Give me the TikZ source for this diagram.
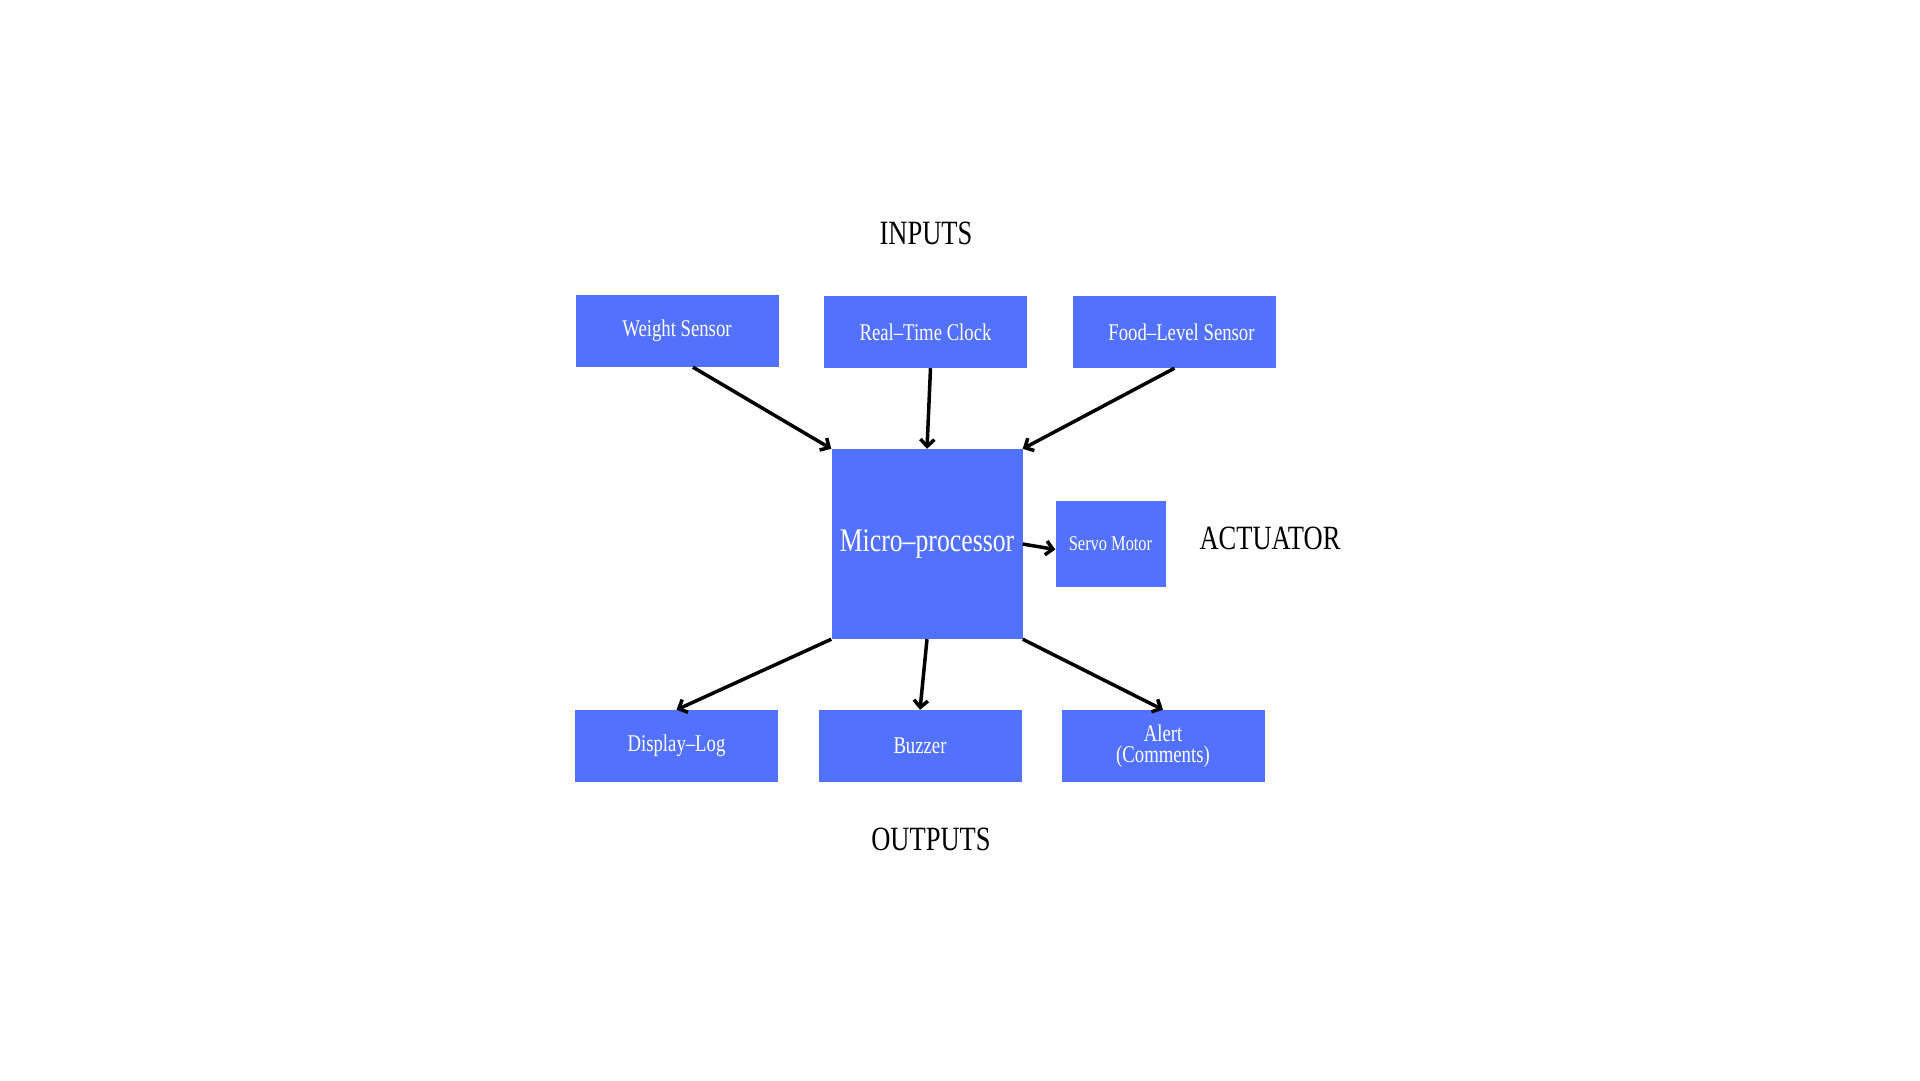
\documentclass[tikz,border=0pt]{standalone}
\usepackage{fontspec}
\setmainfont{Liberation Serif}[FakeStretch=0.78]
\usetikzlibrary{arrows.meta}
\definecolor{boxblue}{RGB}{82,113,255}

\begin{document}
\begin{tikzpicture}[x=1pt,y=-1pt,
  block/.style={fill=boxblue, text=white, inner sep=0pt, minimum width=203pt, minimum height=72pt, align=center, font=\fontsize{24}{21}\selectfont},
  heading/.style={font=\fontsize{34}{38}\selectfont},
  link/.style={line width=3.5pt, -{Straight Barb[length=7pt,width=14pt]}}]
\useasboundingbox (0,0) rectangle (1920,1080);

\node[heading] (inputs) at (926,233) {INPUTS};
\node[block] (weight) at (677,331) {Weight Sensor};
\node[block] (clock) at (925.5,332) {Real--Time Clock};
\node[block] (level) at (1174.5,332) {\hspace*{14pt}Food--Level Sensor};

\node[block, minimum width=191pt, minimum height=190pt, font=\fontsize{33}{36}\selectfont] (micro) at (927,544) {Micro--processor};
\node[block, minimum width=110pt, minimum height=86pt, font=\fontsize{21}{24}\selectfont] (servo) at (1110.5,543.5) {Servo Motor};
\node[heading] (actuator) at (1270,538) {ACTUATOR};

\node[block] (display) at (676.5,746) {Display--Log};
\node[block] (buzzer) at (920,746) {Buzzer};
\node[block] (alert) at (1163,746) {Alert\\(Comments)};
\node[heading] (outputs) at (931,839) {OUTPUTS};

\draw[link] ([xshift=16pt]weight.south) -- (micro.north west);
\draw[link] ([xshift=5pt]clock.south) -- (micro.north);
\draw[link] (level.south) -- (micro.north east);
\draw[link] (micro.east) -- ([yshift=-6pt]servo.west);
\draw[link] (micro.south west) -- (display.north);
\draw[link] (micro.south) -- (buzzer.north);
\draw[link] (micro.south east) -- (alert.north);
\end{tikzpicture}
\end{document}
